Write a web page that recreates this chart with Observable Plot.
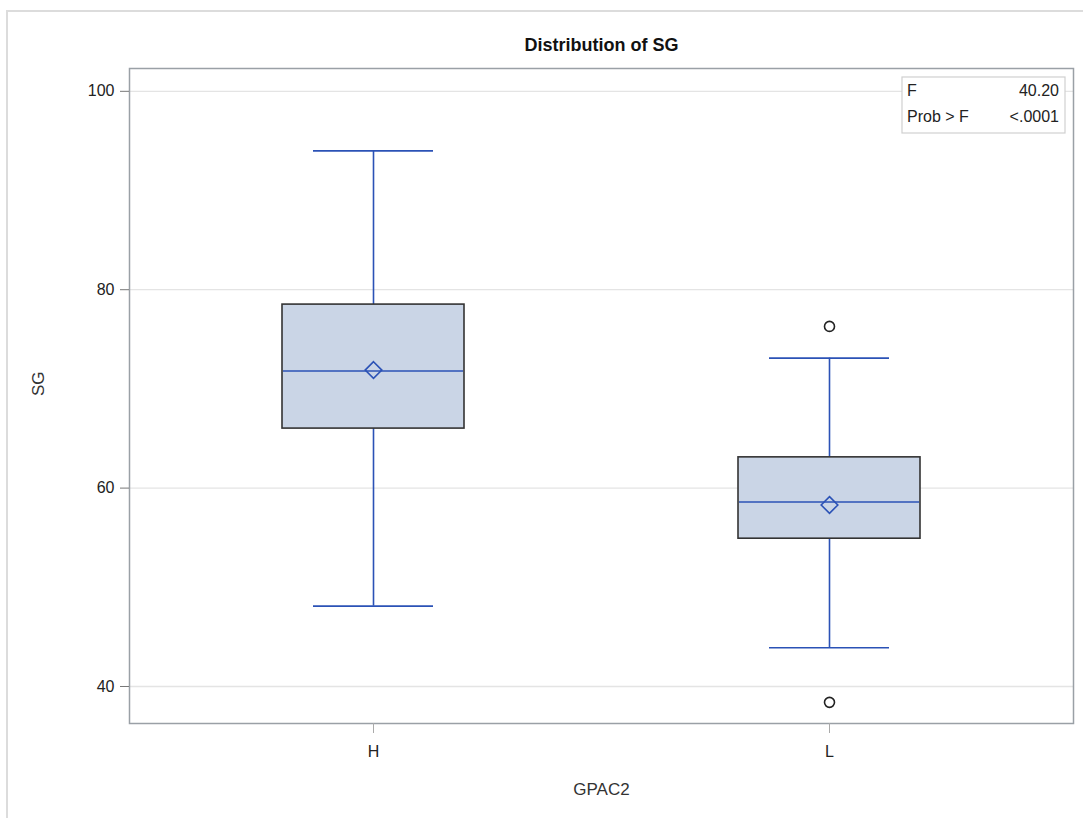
<!DOCTYPE html>
<html>
<head>
<meta charset="utf-8">
<script src="https://cdn.jsdelivr.net/npm/d3@7"></script>
<script src="https://cdn.jsdelivr.net/npm/@observablehq/plot@0.6"></script>
<style>
  html, body { margin: 0; padding: 0; background: #fff; }
  #chart { position: relative; width: 1083px; height: 818px; overflow: hidden; }
  #border { position: absolute; left: 6px; top: 10px; width: 1100px; height: 900px; border-left: 2px solid #dcdcdc; border-top: 2px solid #dcdcdc; }
  svg { position: absolute; left: 0; top: 0; }
</style>
</head>
<body>
<div id="chart"><div id="border"></div></div>
<script>
const groups = ["H", "L"];
const q1 = [66.0, 54.9];
const median = [71.8, 58.6];
const q3 = [78.5, 63.1];
const whiskerLow = [48.1, 43.9];
const whiskerHigh = [94.0, 73.1];
const means = [71.9, 58.3];
const outlierGroup = ["L", "L"];
const outlierValue = [76.3, 38.4];
const yTicks = [40, 60, 80, 100];
const statLabels = ["F", "Prob > F"];
const statValues = ["40.20", "<.0001"];

const boxes = groups.map((g, i) => ({
  g, q1: q1[i], med: median[i], q3: q3[i], lo: whiskerLow[i], hi: whiskerHigh[i], mean: means[i]
}));
const outliers = outlierGroup.map((g, i) => ({g, v: outlierValue[i]}));

const font = "'Liberation Sans', Arial, sans-serif";
const blue = "#2b52b6";

const plot = Plot.plot({
  width: 1083,
  height: 818,
  marginLeft: 129,
  marginRight: 10,
  marginTop: 68,
  marginBottom: 95,
  style: {fontFamily: font, fontSize: "16px", color: "#333", background: "transparent"},
  x: {domain: groups, type: "band", paddingInner: 0.6, paddingOuter: 0.335, label: null},
  y: {domain: [36.27, 102.3], label: null},
  marks: [
    Plot.ruleY(yTicks, {stroke: "#e4e4e4", strokeWidth: 1.3}),
    // whiskers
    Plot.ruleX(boxes, {x: "g", y1: "lo", y2: "q1", stroke: blue, strokeWidth: 1.6}),
    Plot.ruleX(boxes, {x: "g", y1: "q3", y2: "hi", stroke: blue, strokeWidth: 1.6}),
    Plot.tickY(boxes, {x: "g", y: "lo", stroke: blue, strokeWidth: 1.6, insetLeft: 31, insetRight: 31}),
    Plot.tickY(boxes, {x: "g", y: "hi", stroke: blue, strokeWidth: 1.6, insetLeft: 31, insetRight: 31}),
    // box
    Plot.barY(boxes, {x: "g", y1: "q1", y2: "q3", fill: "#cad5e6", stroke: "#333", strokeWidth: 1.6}),
    Plot.tickY(boxes, {x: "g", y: "med", stroke: blue, strokeWidth: 1.6, insetLeft: 1, insetRight: 1}),
    Plot.dot(boxes, {x: "g", y: "mean", symbol: "diamond2", r: 7.5, stroke: blue, strokeWidth: 1.6, fill: "none"}),
    // outliers
    Plot.dot(outliers, {x: "g", y: "v", r: 5, stroke: "#222", strokeWidth: 1.6, fill: "none"}),
    // frame
    Plot.frame({stroke: "#9aa0a6", strokeWidth: 1.5}),
    // axes
    Plot.axisY({ticks: yTicks, tickSize: 9, tickPadding: 6, stroke: "#777", fill: "#222", fontSize: 16, label: null}),
    Plot.axisX({tickSize: 10, tickPadding: 12, stroke: "#aaa", fill: "#222", fontSize: 16, label: null}),
    // title and axis labels
    Plot.text(["Distribution of SG"], {frameAnchor: "top", dy: -30, fontWeight: "bold", fontSize: 18, fill: "#111"}),
    Plot.text(["SG"], {frameAnchor: "left", dx: -91, rotate: -90, fontSize: 17, fill: "#333"}),
    Plot.text(["GPAC2"], {frameAnchor: "bottom", dy: 71, fontSize: 17, fill: "#333"})
  ]
});

document.getElementById("chart").appendChild(plot);

// stats inset box (fixed position inside the frame, top-right)
const svg = d3.select(plot);
const fx = 1073, fy = 68;
const g = svg.append("g").attr("font-family", font).attr("font-size", 16).attr("fill", "#222");
g.append("rect").attr("x", fx - 171).attr("y", fy + 9).attr("width", 163).attr("height", 56)
  .attr("fill", "#fff").attr("stroke", "#d0d0d0").attr("stroke-width", 1.2);
statLabels.forEach((s, i) => {
  g.append("text").attr("x", fx - 166).attr("y", fy + 28 + i * 26).attr("text-anchor", "start").text(s);
  g.append("text").attr("x", fx - 14).attr("y", fy + 28 + i * 26).attr("text-anchor", "end").text(statValues[i]);
});
</script>
</body>
</html>
